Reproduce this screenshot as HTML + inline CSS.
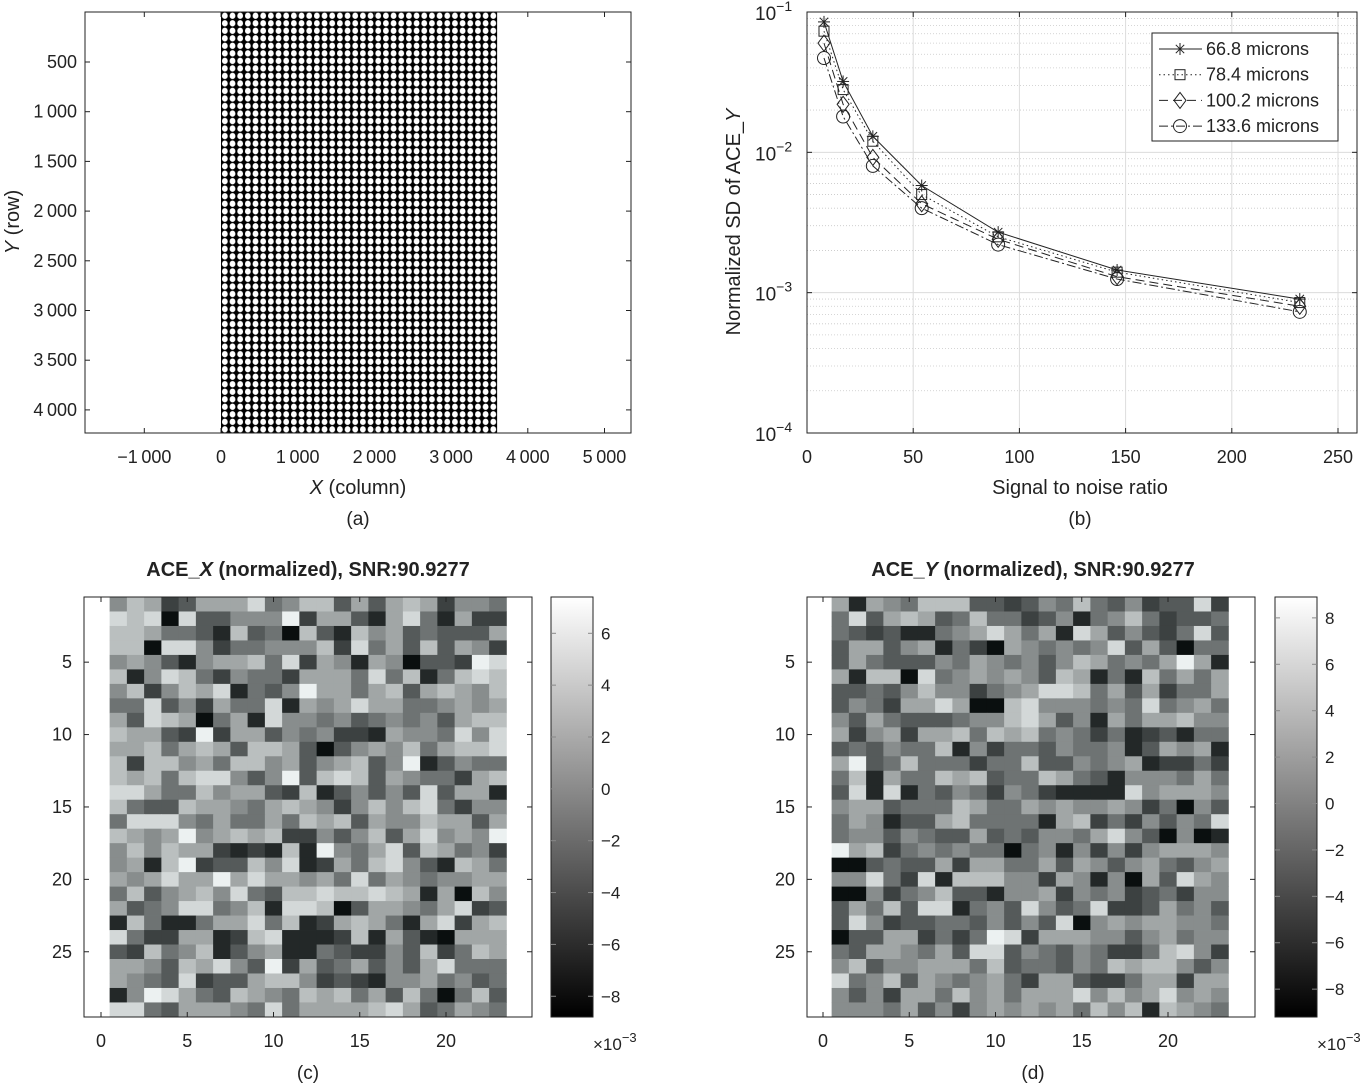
<!DOCTYPE html>
<html><head><meta charset="utf-8"><style>
body{margin:0;background:#fff}
svg{display:block;font-family:"Liberation Sans",sans-serif}
</style></head><body>
<svg id="fig" width="1372" height="1083" viewBox="0 0 1372 1083" xmlns="http://www.w3.org/2000/svg">
<defs>
<pattern id="dots" patternUnits="userSpaceOnUse" x="221" y="12" width="7.67" height="7.52">
<rect width="7.67" height="7.52" fill="#000"/>
<ellipse cx="3.83" cy="3.76" rx="2.9" ry="3.2" fill="#fff"/>
</pattern>
<linearGradient id="cbar" x1="0" y1="0" x2="0" y2="1">
<stop offset="0" stop-color="#fff"/><stop offset="1" stop-color="#000"/>
</linearGradient>
</defs>
<g id="pa"></g>
<g id="pb"></g>
<g id="pc"></g>
<g id="pd"></g>
</svg>
<script>
// ---------- Panel (b) data ----------
const snr = [8, 17, 31, 54, 90, 146, 232];
const s668 = [0.085, 0.032, 0.013, 0.0058, 0.0027, 0.00145, 0.0009];
const s784 = [0.073, 0.028, 0.012, 0.005, 0.0025, 0.0014, 0.00085];
const s1002 = [0.06, 0.022, 0.0092, 0.0043, 0.0024, 0.0013, 0.0008];
const s1336 = [0.047, 0.018, 0.008, 0.004, 0.0022, 0.00125, 0.00073];
const seriesNames = ["66.8 microns", "78.4 microns", "100.2 microns", "133.6 microns"];
const bXTicks = [0, 50, 100, 150, 200, 250];
const bYDecades = [-1, -2, -3, -4];
// ---------- Panel (a) ticks ----------
const aXTicks = [-1000, 0, 1000, 2000, 3000, 4000, 5000];
const aYTicks = [500, 1000, 1500, 2000, 2500, 3000, 3500, 4000];
// ---------- Heatmap (c): quantized grey levels 0 (min) .. 9 (max) ----------
const hmC = [
"57623666845773636762554","87808335559266316841622","77644317340731756343336","77088524455572846373652",
"56531566748265165033298","71587425442666484714787","57257681435966467367657","44835264481656866445656",
"63876046185545345453677","76632926635452216554858","66746763776303565746778","72775647756356735913544",
"76747885359378736544267","88644756632713535383661","74337665467652575784255","48885464464767365576636",
"76569567672253573685659","57576621217195468376452","56179233758126478531764","65686696866564846545566",
"47356758437787787616075","63458845718870366546823","17411466847126764168267","84226612781112716310666",
"32745713561143225372476","66537685392634635368444","65438233677523215564534","15986437654767463740473",
"88436665484666678634654"];
// ---------- Heatmap (d) ----------
const hmD = [
"61654777332354743523382","48367634744235145742334","43231145686461863532483","36635614206545458363044",
"36433354654535764546961","61770845656537614174646","33435755245688746362446","35426686007855545484564",
"53643334557863516466755","62562667476745424123144","34354471524435445136561","69347444244733545612242",
"47164476734476431555464","38181435425421111856665","56634447644656556524053","46513367444416724253548",
"45535433634355468530501","96724545440451525256665","00343362664463653564356","55842817775526515063865",
"00524573315562545234255","36473881453853482236453","38523344353538056566554","03366242498266655356455",
"43665463883543542247852","57355666473443547677535","84573654564266322466266","53526647564666857568565",
"55546352565656475717654"];
const cRange = [-8.8, 7.4];   // colorbar (c) limits, x1e-3
const dRange = [-9.2, 8.9];   // colorbar (d) limits, x1e-3
const cTicks = [6, 4, 2, 0, -2, -4, -6, -8];
const dTicks = [8, 6, 4, 2, 0, -2, -4, -6, -8];
const hmXTicks = [0, 5, 10, 15, 20];
const hmYTicks = [5, 10, 15, 20, 25];

const NS = "http://www.w3.org/2000/svg";
function mk(parent, tag, attrs, text) {
  const e = document.createElementNS(NS, tag);
  for (const k in attrs) e.setAttribute(k, attrs[k]);
  if (text !== undefined) e.textContent = text;
  parent.appendChild(e);
  return e;
}
function fmtK(v) {
  const s = String(Math.abs(v));
  const t = s.length > 3 ? s.slice(0, s.length - 3) + "\u2009" + s.slice(-3) : s;
  return (v < 0 ? "\u2212" : "") + t;
}
function neg(v){ return v < 0 ? "\u2212" + Math.abs(v) : String(v); }

// ================= Panel A =================
(function(){
  const g = document.getElementById("pa");
  const L = 85, R = 631, T = 12, B = 433;
  const x0 = 221, kx = 0.0767, y0 = 12.3, ky = 0.0994;
  const X = v => x0 + v * kx, Y = v => y0 + v * ky;
  const img = mk(g, "rect", {x: X(0), y: T, width: X(3600) - X(0), height: B - T, fill: "url(#dots)"});
  
  
  const box = mk(g, "rect", {x: L, y: T, width: R - L, height: B - T, fill: "none", stroke: "#222", "stroke-width": 1});
  
  
  aXTicks.forEach(v => {
    const x = X(v);
    mk(g, "line", {x1: x, x2: x, y1: B, y2: B - 5, stroke: "#222"});
    mk(g, "line", {x1: x, x2: x, y1: T, y2: T + 5, stroke: "#222"});
    const t = mk(g, "text", {x: x, y: 463, "font-size": 18, "text-anchor": "middle", fill: "#222"}, fmtK(v));
    
    
  });
  aYTicks.forEach(v => {
    const y = Y(v);
    mk(g, "line", {x1: L, x2: L + 5, y1: y, y2: y, stroke: "#222"});
    mk(g, "line", {x1: R, x2: R - 5, y1: y, y2: y, stroke: "#222"});
    const t = mk(g, "text", {x: 77, y: y + 6, "font-size": 18, "text-anchor": "end", fill: "#222"}, fmtK(v));
    
    
  });
  const xl = mk(g, "text", {x: 358, y: 494, "font-size": 20, "text-anchor": "middle", fill: "#222"});
  xl.innerHTML = '<tspan font-style="italic">X</tspan> (column)';
  
  
  const yl = mk(g, "text", {x: 0, y: 0, "font-size": 20, "text-anchor": "middle", fill: "#222", transform: "translate(19,222) rotate(-90)"});
  yl.innerHTML = '<tspan font-style="italic">Y</tspan> (row)';
  
  
  const cap = mk(g, "text", {x: 358, y: 525, "font-size": 19, "text-anchor": "middle", fill: "#222"}, "(a)");
  
  
})();

// ================= Panel B =================
(function(){
  const g = document.getElementById("pb");
  const L = 807, R = 1357, T = 12, B = 433;
  const X = v => L + v * 2.124;
  const Y = v => T + (-1 - Math.log10(v)) * 140.33;
  for (let d = -4; d < -1; d++) for (let m = 2; m <= 9; m++) {
    const y = Y(m * Math.pow(10, d));
    mk(g, "line", {x1: L, x2: R, y1: y, y2: y, stroke: "#c8c8c8", "stroke-dasharray": "1,2", "stroke-width": 0.8});
  }
  bXTicks.forEach(v => {
    const x = X(v);
    mk(g, "line", {x1: x, x2: x, y1: T, y2: B, stroke: "#dcdcdc"});
    mk(g, "line", {x1: x, x2: x, y1: B, y2: B - 5, stroke: "#222"});
    mk(g, "line", {x1: x, x2: x, y1: T, y2: T + 5, stroke: "#222"});
    const t = mk(g, "text", {x: x, y: 463, "font-size": 18, "text-anchor": "middle", fill: "#222"}, String(v));
    
    
  });
  bYDecades.forEach(d => {
    const y = Y(Math.pow(10, d));
    mk(g, "line", {x1: L, x2: R, y1: y, y2: y, stroke: "#dcdcdc"});
    mk(g, "line", {x1: L, x2: L + 5, y1: y, y2: y, stroke: "#222"});
    mk(g, "line", {x1: R, x2: R - 5, y1: y, y2: y, stroke: "#222"});
    const t = mk(g, "text", {x: 755, y: y + 8, "font-size": 19, fill: "#222"});
    t.innerHTML = '10<tspan dy="-9" font-size="14">\u2212' + Math.abs(d) + '</tspan>';
    
    
  });
  const box = mk(g, "rect", {x: L, y: T, width: R - L, height: B - T, fill: "none", stroke: "#222"});
  
  
  const dashes = ["none", "1.5,3", "9,5", "9,3,2,3"];
  const data = [s668, s784, s1002, s1336];
  function marker(parent, k, x, y) {
    const st = {fill: "none", stroke: "#222", "stroke-width": 1};
    if (k === 0) {
      const r = 6;
      [[r,0],[0,r],[r*0.7,r*0.7],[r*0.7,-r*0.7]].forEach(([a,b]) => mk(parent, "line", Object.assign({x1: x - a, y1: y - b, x2: x + a, y2: y + b}, st)));
    } else if (k === 1) mk(parent, "rect", Object.assign({x: x - 5, y: y - 5, width: 10, height: 10}, st));
    else if (k === 2) mk(parent, "polygon", Object.assign({points: `${x},${y-8} ${x+6},${y} ${x},${y+8} ${x-6},${y}`}, st));
    else mk(parent, "circle", Object.assign({cx: x, cy: y, r: 6.5}, st));
  }
  data.forEach((s, k) => {
    const sg = mk(g, "g", {});
    
    
    const pts = s.map((v, i) => X(snr[i]) + "," + Y(v)).join(" ");
    mk(sg, "polyline", {points: pts, fill: "none", stroke: "#222", "stroke-width": 1, "stroke-dasharray": dashes[k]});
    s.forEach((v, i) => marker(sg, k, X(snr[i]), Y(v)));
  });
  const lg = mk(g, "g", {});
  
  
  mk(lg, "rect", {x: 1152, y: 33, width: 186, height: 108, fill: "#fff", stroke: "#222"});
  seriesNames.forEach((n, k) => {
    const y = 49 + k * 25.7;
    const eg = mk(lg, "g", {});
    
    
    mk(eg, "line", {x1: 1159, x2: 1202, y1: y, y2: y, stroke: "#222", "stroke-dasharray": dashes[k]});
    marker(eg, k, 1180, y);
    mk(eg, "text", {x: 1206, y: y + 6, "font-size": 18, fill: "#222"}, n);
  });
  const xl = mk(g, "text", {x: 1080, y: 494, "font-size": 20, "text-anchor": "middle", fill: "#222"}, "Signal to noise ratio");
  
  
  const yl = mk(g, "text", {x: 0, y: 0, "font-size": 20, "text-anchor": "middle", fill: "#222", transform: "translate(740,222) rotate(-90)"});
  yl.innerHTML = 'Normalized SD of ACE_<tspan font-style="italic">Y</tspan>';
  
  
  const cap = mk(g, "text", {x: 1080, y: 525, "font-size": 19, "text-anchor": "middle", fill: "#222"}, "(b)");
  
  
})();

// ================= Heatmaps =================
function grey(t) {
  const r = Math.round(10 + t * 226), gg = Math.round(15 + t * 226);
  return `rgb(${r},${gg},${gg})`;
}
function heat(id, levels, range, ticks, p, title, caption) {
  const g = document.getElementById(id);
  const T = 597, B = 1017, kx = 17.25, ky = 14.48;
  const X = v => p.x0 + v * kx, Y = v => T + (v - 0.5) * ky;
  levels.forEach((row, r) => {
    [...row].forEach((ch, c) => {
      const L = +ch;
      const val = range[0] + L * (range[1] - range[0]) / 9;
      const t = (val - range[0]) / (range[1] - range[0]);
      const cell = mk(g, "rect", {x: X(c + 0.5), y: Y(r + 0.5), width: kx + 0.4, height: ky + 0.4, fill: grey(t)});
      
      
    });
  });
  const box = mk(g, "rect", {x: p.L, y: T, width: p.R - p.L, height: B - T, fill: "none", stroke: "#222"});
  
  
  hmXTicks.forEach(v => {
    const x = X(v);
    mk(g, "line", {x1: x, x2: x, y1: B, y2: B - 5, stroke: "#222"});
    mk(g, "line", {x1: x, x2: x, y1: T, y2: T + 5, stroke: "#222"});
    const t = mk(g, "text", {x: x, y: 1047, "font-size": 18, "text-anchor": "middle", fill: "#222"}, String(v));
    
    
  });
  hmYTicks.forEach(v => {
    const y = Y(v);
    mk(g, "line", {x1: p.L, x2: p.L + 5, y1: y, y2: y, stroke: "#222"});
    mk(g, "line", {x1: p.R, x2: p.R - 5, y1: y, y2: y, stroke: "#222"});
    const t = mk(g, "text", {x: p.L - 12, y: y + 6, "font-size": 18, "text-anchor": "end", fill: "#222"}, String(v));
    
    
  });
  const cb = mk(g, "rect", {x: p.cb, y: T, width: 42, height: B - T, fill: "url(#cbar)", stroke: "#222"});
  
  
  const CY = v => T + (range[1] - v) / (range[1] - range[0]) * (B - T);
  ticks.forEach(v => {
    const y = CY(v);
    mk(g, "line", {x1: p.cb + 42, x2: p.cb + 37, y1: y, y2: y, stroke: "#888"});
    mk(g, "line", {x1: p.cb, x2: p.cb + 5, y1: y, y2: y, stroke: "#888"});
    const t = mk(g, "text", {x: p.cb + 50, y: y + 6, "font-size": 17, fill: "#222"}, neg(v));
    
    
  });
  const ex = mk(g, "text", {x: p.cb + 42, y: 1050, "font-size": 17, fill: "#222"});
  ex.innerHTML = '\u00d710<tspan dy="-8" font-size="13">\u22123</tspan>';
  
  
  const tt = mk(g, "text", {x: p.tc, y: 576, "font-size": 20, "font-weight": "bold", "text-anchor": "middle", fill: "#222"});
  tt.innerHTML = title;
  
  
  const cap = mk(g, "text", {x: p.tc, y: 1079, "font-size": 19, "text-anchor": "middle", fill: "#222"}, caption);
  
  
}
heat("pc", hmC, cRange, cTicks, {x0: 101, L: 84, R: 532, cb: 551, tc: 308},
  'ACE_<tspan font-style="italic">X</tspan> (normalized), SNR:90.9277', "(c)");
heat("pd", hmD, dRange, dTicks, {x0: 823, L: 807, R: 1255, cb: 1275, tc: 1033},
  'ACE_<tspan font-style="italic">Y</tspan> (normalized), SNR:90.9277', "(d)");
</script>
</body></html>
